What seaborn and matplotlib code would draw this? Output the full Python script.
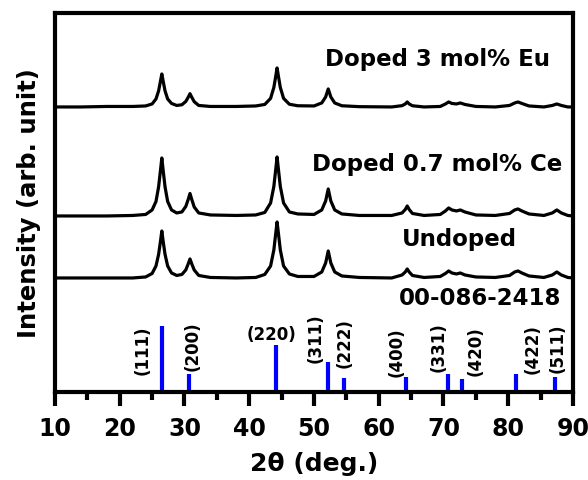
import numpy as np
import pandas as pd
import matplotlib
matplotlib.use("Agg")
import matplotlib.pyplot as plt
import seaborn as sns

# 2theta sampling points (deg.)
two_theta = [10, 14, 18, 22, 24, 25.0, 25.6, 26.0, 26.3, 26.5, 26.7, 27.0, 27.4, 28.0,
             28.8, 29.6, 30.2, 30.6, 30.85, 31.1, 31.5, 32.2, 34, 38, 41, 42.4, 43.3,
             43.8, 44.1, 44.3, 44.5, 44.8, 45.3, 46.2, 47.5, 50, 51.2, 51.8, 52.2, 52.6,
             53.2, 54.3, 57, 62, 63.6, 64.1, 64.4, 64.7, 65.2, 67, 69.5, 70.3, 70.8,
             71.3, 72.0, 72.6, 73.3, 75, 78, 80.2, 81.0, 81.5, 82.1, 83.2, 85.5, 86.8,
             87.5, 88.2, 89.2, 90]

# intensities above each trace's own baseline (arb. unit)
eu_3 = [0, 0, 0.5, 0.5, 1, 3, 8, 16, 26, 33, 26, 16, 8, 3.5,
        1.5, 2.2, 5.5, 10, 13.3, 10, 5.3, 1.5, 0.5, 0.5, 1, 2.5, 8.6,
        19.5, 31, 39, 31, 19.5, 8.6, 2.7, 1.2, 1, 4, 10, 18, 10,
        4, 1.2, 0.3, 0, 1.3, 3, 5, 3, 1.2, 0, 0.5, 3, 5,
        3.5, 3, 4, 2.5, 0.5, 0, 1.5, 4, 5, 3.5, 1, 0, 1.5,
        3, 1.5, 0, 0]
ce_07 = [0, 0, 0, 0.5, 1.5, 6, 14.5, 29, 46, 58, 46, 29, 14.5, 6,
         3, 4, 9.5, 17, 22.5, 17, 9, 3, 1, 0.5, 1, 3.5, 13,
         29.5, 47, 59, 47, 29.5, 13, 4, 2, 1.5, 6, 15, 27, 15,
         6, 2, 0.5, 0.5, 3, 6.5, 10, 6.5, 2.5, 0.5, 1.5, 5, 8,
         6, 5, 6, 4, 1, 0.5, 2.5, 6, 7, 5, 2, 0.5, 3,
         6, 3, 0.5, 0]
undoped = [0, 0, 0, 0, 1, 4.5, 12, 23.5, 37, 47, 37, 23.5, 12, 5,
           2.5, 3.5, 8, 14.5, 19, 14.5, 8, 2.5, 0.5, 0, 0.5, 3.5, 12,
           28, 45, 56, 45, 28, 12, 4, 1.5, 1.5, 6, 15, 27, 15,
           6, 2, 0.5, 0, 3, 6, 9, 6, 2.5, 0.5, 1.5, 4.5, 7,
           5, 4, 5, 3, 1, 0.5, 2.5, 6, 7, 5, 2, 0.5, 3,
           6, 3, 0.5, 0]

# reference card 00-086-2418
ref_pos = [26.5, 30.7, 44.1, 52.2, 54.6, 64.2, 70.7, 72.9, 81.2, 87.2]
ref_int = [66, 18, 47, 30, 14, 15, 18, 13, 18, 15]
ref_hkl = ["(111)", "(200)", "(220)", "(311)", "(222)", "(400)", "(331)", "(420)", "(422)", "(511)"]

sns.set_style("white")
plt.rcParams["font.family"] = ["DejaVu Sans"]
plt.rcParams["font.weight"] = "bold"
plt.rcParams["text.color"] = "black"
plt.rcParams["axes.labelcolor"] = "black"
plt.rcParams["xtick.color"] = "black"

fig = plt.figure(figsize=(5.88, 4.81), dpi=100)
ax = fig.add_axes([0.0935, 0.183, 0.881, 0.788])

# vertical stacking of traces
offsets = {"undoped": 114, "ce": 176, "eu": 285}
for key, vals in [("undoped", undoped), ("ce", ce_07), ("eu", eu_3)]:
    y = np.array(vals) + offsets[key]
    sns.lineplot(x=two_theta, y=y, ax=ax, color="black", lw=2.3, sort=False)

ax.vlines(ref_pos, 0, ref_int, color="#0000ff", lw=3)

# hkl labels
lab_x = [23.6, 31.2, 43.5, 50.3, 54.8, 62.8, 69.2, 74.9, 83.8, 87.7]
lab_y = [43, 47, 58, 55, 50, 41, 46, 42, 44, 45]
for hkl, lx, ly in zip(ref_hkl, lab_x, lab_y):
    rot = 0 if hkl == "(220)" else 90
    ax.text(lx, ly, hkl, rotation=rot, ha="center", va="center",
            fontsize=12, fontweight="bold")

ax.text(69.0, 333, "Doped 3 mol% Eu", ha="center", va="center", fontsize=16.5, fontweight="bold")
ax.text(69.0, 228, "Doped 0.7 mol% Ce", ha="center", va="center", fontsize=16.5, fontweight="bold")
ax.text(72.5, 153, "Undoped", ha="center", va="center", fontsize=16.5, fontweight="bold")
ax.text(75.6, 94, "00-086-2418", ha="center", va="center", fontsize=16.5, fontweight="bold")

ax.set_xlim(10, 90)
ax.set_ylim(0, 379)
ax.set_xticks(range(10, 91, 10))
ax.set_xticks(range(15, 90, 10), minor=True)
ax.set_yticks([])
ax.tick_params(axis="x", which="major", direction="out", length=10, width=3,
               labelsize=17, pad=7, bottom=True)
ax.tick_params(axis="x", which="minor", direction="out", length=6, width=3, bottom=True)
for lbl in ax.get_xticklabels():
    lbl.set_fontweight("bold")
for sp in ax.spines.values():
    sp.set_linewidth(3)
    sp.set_color("black")

ax.set_xlabel("2θ (deg.)", fontsize=18, fontweight="bold", labelpad=8)
ax.set_ylabel("Intensity (arb. unit)", fontsize=17.5, fontweight="bold")
ax.yaxis.set_label_coords(-0.027, 0.5)

fig.savefig("out.png", dpi=100)
